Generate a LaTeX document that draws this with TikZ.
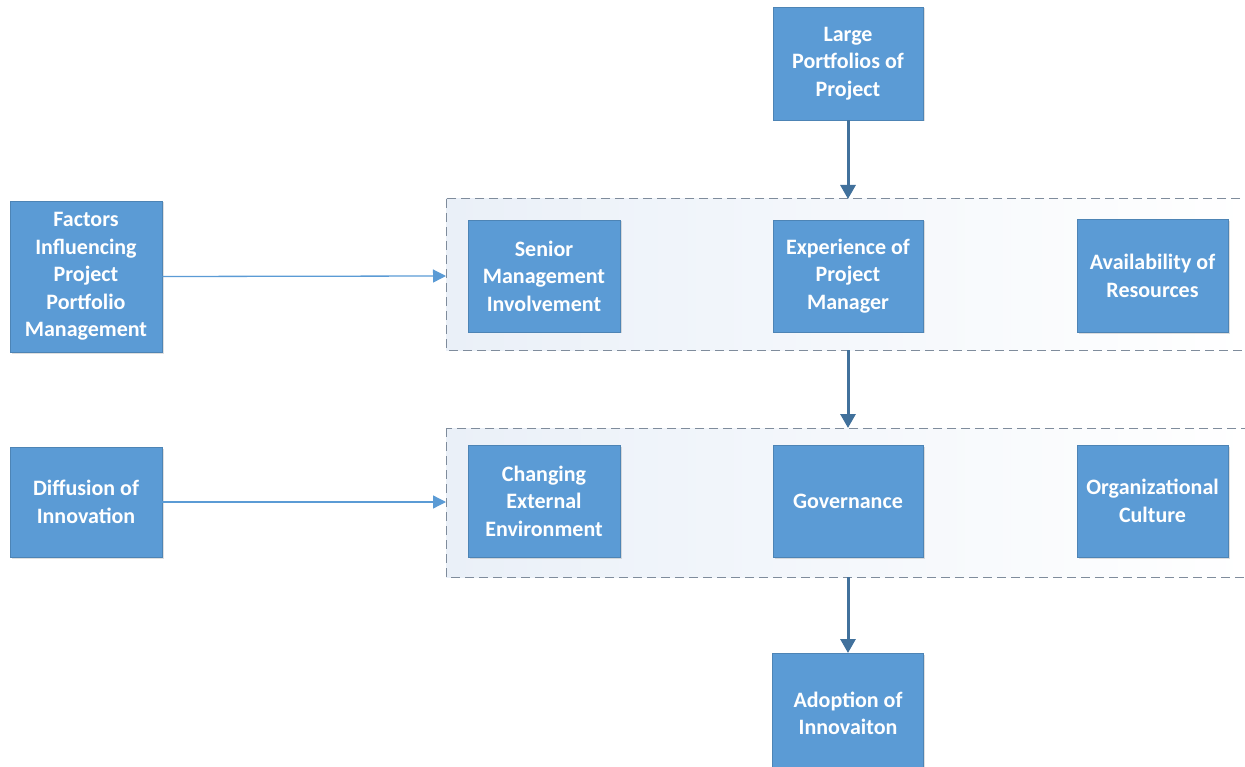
\documentclass[tikz,border=0pt]{standalone}
\usepackage{fontspec}
\setmainfont{Carlito}
\usetikzlibrary{arrows.meta,shadows}
\definecolor{boxblue}{HTML}{5B9BD5}
\definecolor{darkarrow}{HTML}{41719C}
\definecolor{dashgray}{HTML}{7F8C9C}
\definecolor{paleblue}{HTML}{EAF0F8}
\tikzset{
  fbox/.style={draw=boxblue!85!black, line width=0.6pt, fill=boxblue, text=white,
    font=\fontsize{22}{27.5}\selectfont\bfseries, align=center, inner sep=0pt,
    drop shadow={opacity=0.25, shadow xshift=1.5pt, shadow yshift=-1.5pt}},
  group/.style={draw=dashgray, dashed, dash pattern=on 9pt off 5pt, line width=1pt,
    left color=paleblue, right color=white},
  thick arr/.style={draw=darkarrow, line width=3pt, -{Triangle[length=14pt,width=15pt]}},
  thin arr/.style={draw=boxblue, line width=1.3pt, -{Triangle[length=13pt,width=13pt]}},
}
\begin{document}
\begin{tikzpicture}[x=1pt,y=-1pt]
\useasboundingbox (0,0) rectangle (1245,767);
% dashed groups
\path[group] (446,199) rectangle (1252,350);
\path[group] (446,428) rectangle (1252,577);
\coordinate (g1l) at (446,276);
\coordinate (g2l) at (446,502);
\coordinate (g1t) at (848,199);
\coordinate (g1b) at (848,350);
\coordinate (g2t) at (848,428);
\coordinate (g2b) at (848,577);
% boxes
\node[fbox, minimum width=150pt, minimum height=113pt] (large) at (848,63.5) {Large\\Portfolios of\\Project};
\node[fbox, minimum width=152pt, minimum height=151pt] (factors) at (86,276.5) {Factors\\Influencing\\Project\\Portfolio\\Management};
\node[fbox, minimum width=152pt, minimum height=112pt] (senior) at (544,276) {Senior\\Management\\Involvement};
\node[fbox, minimum width=150pt, minimum height=112pt] (exper) at (848,276) {Experience of\\Project\\Manager};
\node[fbox, minimum width=151pt, minimum height=113pt] (avail) at (1152.5,276) {Availability of\\Resources};
\node[fbox, minimum width=152pt, minimum height=110pt] (diff) at (86,502) {Diffusion of\\Innovation};
\node[fbox, minimum width=152pt, minimum height=112pt] (chang) at (544,501) {Changing\\External\\Environment};
\node[fbox, minimum width=150pt, minimum height=112pt] (gov) at (848,501) {Governance};
\node[fbox, minimum width=151pt, minimum height=112pt] (org) at (1152.5,501) {Organizational\\Culture};
\node[fbox, minimum width=151pt, minimum height=120pt, anchor=north] (adopt) at (848,653) {Adoption of\\Innovaiton};
% connectors
\draw[thick arr] (large.south) -- (g1t);
\draw[thick arr] (g1b) -- (g2t);
\draw[thick arr] (g2b) -- (adopt.north);
\draw[thin arr] (factors.east) -- (g1l);
\draw[thin arr] (diff.east) -- (g2l);
\end{tikzpicture}
\end{document}
